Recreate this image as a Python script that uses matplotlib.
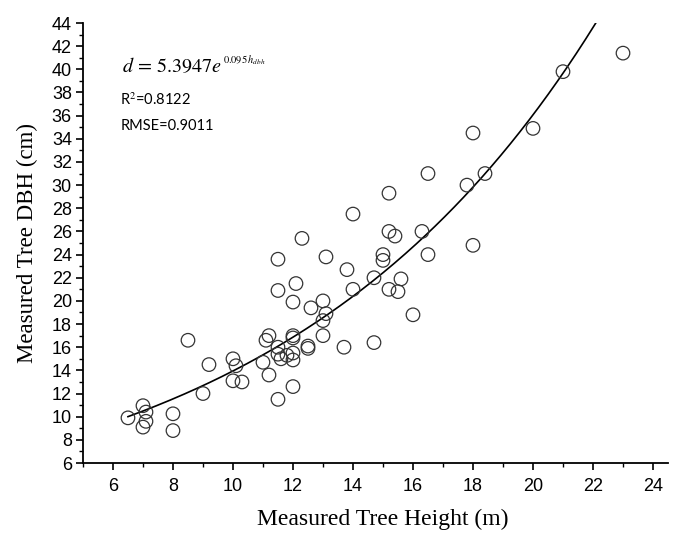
import numpy as np
import matplotlib
matplotlib.use('Agg')
from matplotlib import pyplot as plt
from matplotlib.ticker import MultipleLocator

# measured height (m) and DBH (cm)
HEIGHT = [6.5, 7.0, 7.1, 7.1, 7.0, 8.0, 8.0, 8.5, 9.2, 9.0,
          10.0, 10.1, 10.0, 10.3, 11.2, 11.1, 11.0, 11.2, 11.5, 11.5,
          11.5, 12.1, 12.0, 11.5, 11.5, 11.6, 11.8, 12.0, 12.0, 12.0,
          12.0, 12.0, 12.5, 12.5, 12.6, 13.0, 13.1, 13.0, 13.0, 12.3,
          13.1, 13.7, 14.7, 16.0, 14.0, 15.2, 15.5, 15.6, 14.7, 13.8,
          15.0, 15.0, 15.4, 15.2, 16.5, 16.3, 18.0, 14.0, 15.2, 16.5,
          17.8, 18.4, 18.0, 20.0, 21.0, 23.0]
DBH = [9.9, 10.95, 10.4, 9.6, 9.1, 10.25, 8.8, 16.6, 14.5, 12.0,
       15.0, 14.4, 13.1, 13.0, 17.0, 16.6, 14.7, 13.6, 11.5, 23.6,
       20.9, 21.5, 19.9, 16.0, 15.4, 15.0, 15.3, 17.0, 16.8, 15.5,
       14.9, 12.6, 16.1, 15.9, 19.4, 20.0, 18.9, 18.3, 17.0, 25.4,
       23.8, 16.0, 16.4, 18.8, 21.0, 21.0, 20.8, 21.9, 22.0, 22.7,
       23.5, 24.0, 25.6, 26.0, 24.0, 26.0, 24.8, 27.5, 29.3, 31.0,
       30.0, 31.0, 34.5, 34.9, 39.8, 41.4]

# fitted model d = a * exp(b * h)
FIT_A = 5.3947
FIT_B = 0.095
FIT_RANGE = (6.5, 22.12)

X_TICKS = [6, 8, 10, 12, 14, 16, 18, 20, 22, 24]
Y_TICKS = list(range(6, 45, 2))

plt.rcParams['mathtext.fontset'] = 'stix'

fig = plt.figure(figsize=(6.74, 5.38), dpi=100)
ax = fig.add_axes([0.1231, 0.1394, 0.868, 0.8178])

h = np.linspace(FIT_RANGE[0], FIT_RANGE[1], 300)
ax.plot(h, FIT_A * np.exp(FIT_B * h), color='black', lw=1.2, zorder=2)
ax.scatter(HEIGHT, DBH, s=95, facecolors='none', edgecolors='#333333',
           linewidths=0.9, zorder=3)

ax.set_xlim(5, 24.5)
ax.set_ylim(6, 44)
ax.set_xticks(X_TICKS)
ax.set_yticks(Y_TICKS)
ax.xaxis.set_minor_locator(MultipleLocator(1))
ax.yaxis.set_minor_locator(MultipleLocator(1))
ax.tick_params(which='major', direction='out', length=5, width=1.2,
               labelsize=13)
ax.tick_params(axis='x', which='major', pad=6)
ax.tick_params(axis='y', which='major', pad=3)
ax.tick_params(which='minor', direction='out', length=3, width=1.0)
for lab in ax.get_xticklabels() + ax.get_yticklabels():
    lab.set_fontfamily('Liberation Sans')

for side in ['top', 'right']:
    ax.spines[side].set_visible(False)
for side in ['left', 'bottom']:
    ax.spines[side].set_linewidth(1.3)

ax.set_xlabel('Measured Tree Height (m)', fontsize=17,
              fontfamily='Liberation Serif')
ax.xaxis.set_label_coords(0.512, -0.105)
ax.set_ylabel('Measured Tree DBH (cm)', fontsize=16.5,
              fontfamily='Liberation Serif')
ax.yaxis.set_label_coords(-0.076, 0.5)

# equation: main part plus a small superscript
eq = ax.text(6.3, 39.76, r'$d\,=\,5.3947e$', fontsize=14.5,
             va='baseline', ha='left')
fig.canvas.draw()
bb = eq.get_window_extent().transformed(ax.transData.inverted())
ax.text(bb.x1 + 0.03, 40.5, r'$0.095\,h_{dbh}$', fontsize=7.5,
        va='baseline', ha='left')

ax.text(6.25, 37.35, 'R$^2$=0.8122', fontsize=10.5, fontfamily='Lato',
        va='center', ha='left')
ax.text(6.25, 35.1, 'RMSE=0.9011', fontsize=10.5, fontfamily='Lato',
        va='center', ha='left')

plt.savefig('out.png', dpi=100)
